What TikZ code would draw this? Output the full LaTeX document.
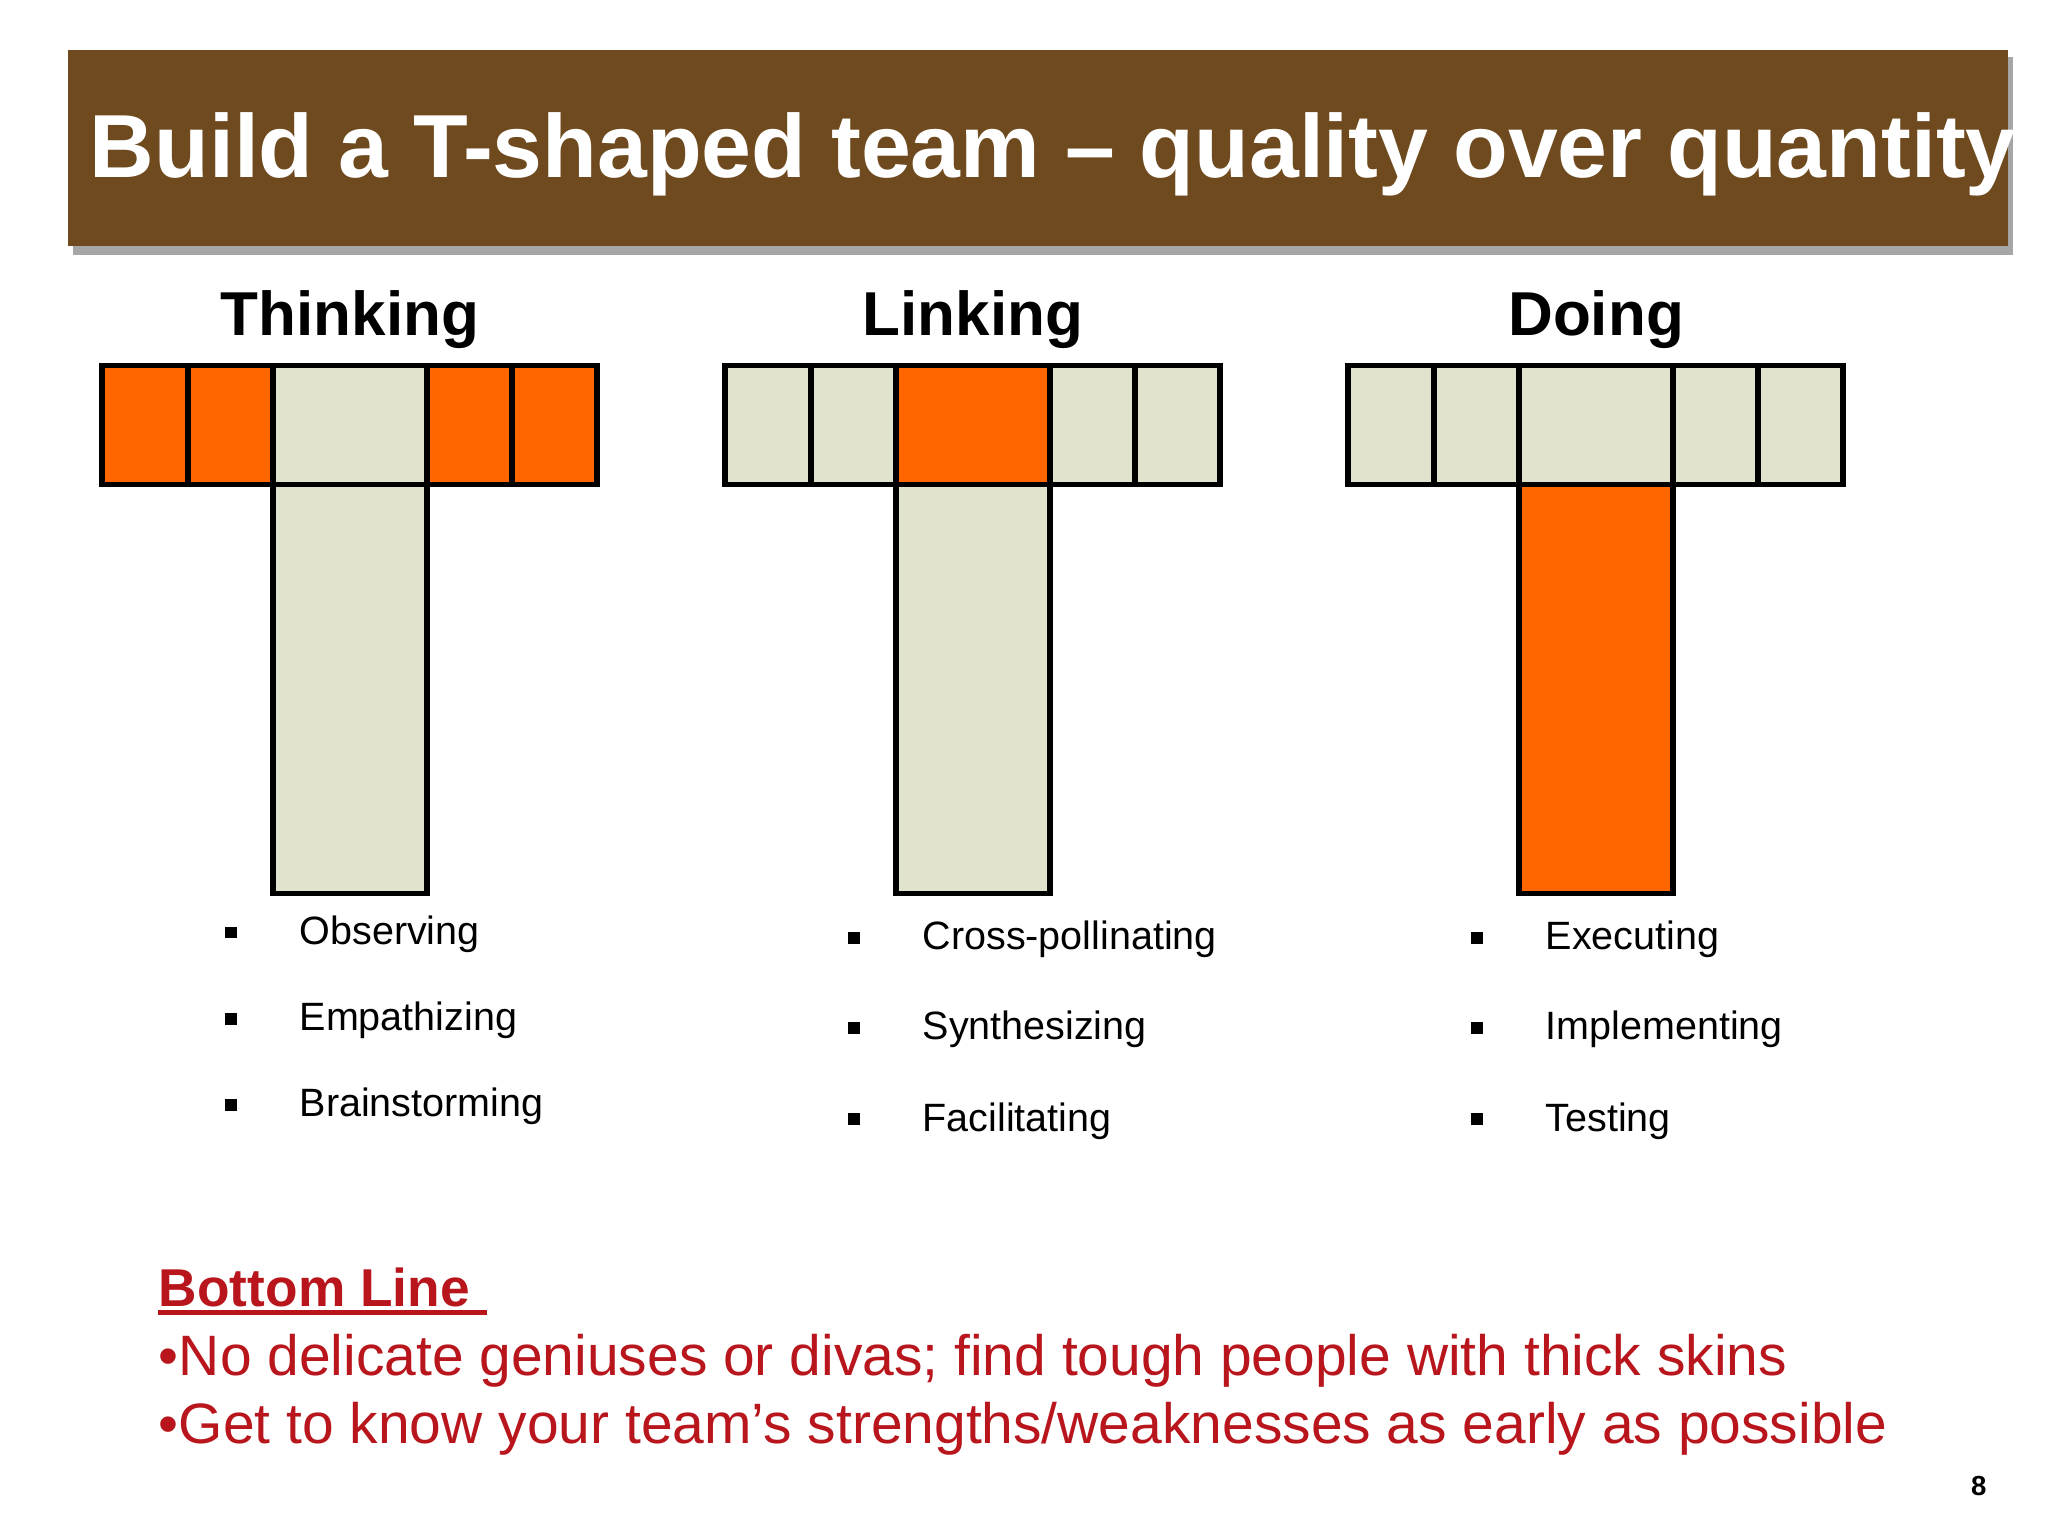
\documentclass[tikz,border=0pt]{standalone}
\usepackage{fontspec}
\setmainfont{Liberation Sans}
\definecolor{org}{HTML}{FF6600}
\definecolor{bei}{HTML}{E1E3CC}
\definecolor{brn}{HTML}{6E4A1E}
\definecolor{brd}{HTML}{B8161C}
\begin{document}
\begin{tikzpicture}[x=0.01cm,y=-0.01cm,
  cell/.style={draw=black,line width=1.2pt},
  head/.style={font=\fontsize{13.5}{16}\selectfont\bfseries,anchor=base},
  item/.style={font=\fontsize{8.6}{10}\selectfont,anchor=base west},
  bul/.style={fill=black,minimum size=0.09cm,inner sep=0pt}]
\useasboundingbox (0,0) rectangle (1568,1176);
\fill[white] (0,0) rectangle (1568,1176);
\fill[black!35] (56,44) rectangle (1541,195);
\fill[brn] (52,38) rectangle (1537,188);
\node[anchor=base west,text=white,font=\fontsize{19.5}{22}\selectfont\bfseries,inner sep=0] (title) at (68,136) {Build a T-shaped team -- quality over quantity};
\foreach \ox/\name/\pat in {0/Thinking/1, 477/Linking/2, 954/Doing/3}{
  \begin{scope}[xshift=\ox*0.01cm]
  \node[head] at (268,257) {\name};
  \end{scope}
}
% Thinking
\foreach \a/\b/\c in {78/144/org,144/209/org,209/327/bei,327/392/org,392/457/org}
  \draw[cell,fill=\c] (\a,280) rectangle (\b,371);
\draw[cell,fill=bei] (209,371) rectangle (327,684);
% Linking
\foreach \a/\b/\c in {555/621/bei,621/686/bei,686/804/org,804/869/bei,869/934/bei}
  \draw[cell,fill=\c] (\a,280) rectangle (\b,371);
\draw[cell,fill=bei] (686,371) rectangle (804,684);
% Doing
\foreach \a/\b/\c in {1032/1098/bei,1098/1163/bei,1163/1281/bei,1281/1346/bei,1346/1411/bei}
  \draw[cell,fill=\c] (\a,280) rectangle (\b,371);
\draw[cell,fill=org] (1163,371) rectangle (1281,684);
% bullets
\foreach \t/\y in {Observing/714,Empathizing/780,Brainstorming/846}{
  \node[bul] at (177,\y) {}; \node[item] at (217,\y+9) {\t};}
\foreach \t/\y in {Cross-pollinating/718,Synthesizing/787,Facilitating/857}{
  \node[bul] at (654,\y) {}; \node[item] at (694,\y+9) {\t};}
\foreach \t/\y in {Executing/718,Implementing/787,Testing/857}{
  \node[bul] at (1131,\y) {}; \node[item] at (1171,\y+9) {\t};}
\node[anchor=base west,text=brd,inner sep=0,font=\fontsize{11.6}{14}\selectfont\bfseries] (bl) at (121,1000) {Bottom Line};
\draw[brd,line width=1pt] (121,1005) -- (373,1005);
\node[anchor=base west,text=brd,inner sep=0,font=\fontsize{12.4}{14}\selectfont] (l1) at (121,1053) {•No delicate geniuses or divas; find tough people with thick skins};
\node[anchor=base west,text=brd,inner sep=0,font=\fontsize{12.4}{14}\selectfont] (l2) at (121,1105) {•Get to know your team’s strengths/weaknesses as early as possible};
\node[anchor=base,inner sep=0,font=\fontsize{6}{7}\selectfont\bfseries] (pg) at (1515,1145) {8};
\end{tikzpicture}
\end{document}
